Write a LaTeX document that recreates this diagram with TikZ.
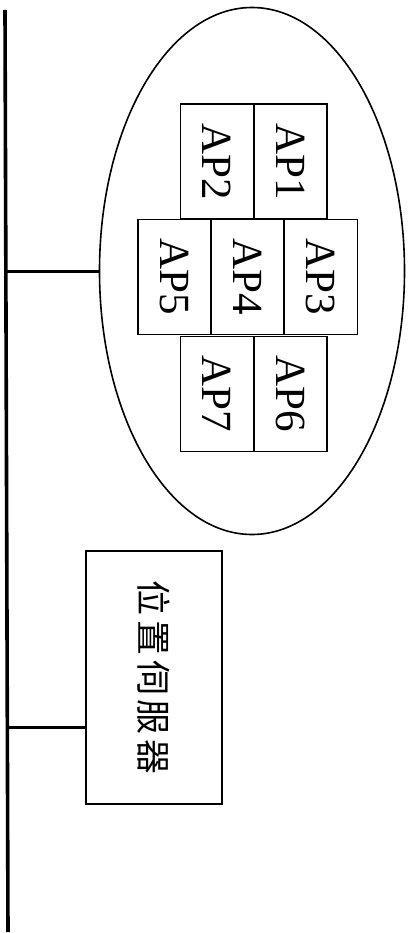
\documentclass[tikz,border=0pt]{standalone}
\usepackage{fontspec}
\setmainfont{Liberation Serif}
\newfontfamily\cjk[LetterSpace=14]{Noto Sans CJK TC}
\usetikzlibrary{shapes.geometric}
\tikzset{
  apbox/.style={draw, line width=1.8pt, minimum width=73pt, minimum height=115pt, inner sep=0pt,
    font=\fontsize{43}{43}\selectfont},
  bus/.style={line width=3.6pt},
  tap/.style={line width=3pt}
}
\begin{document}
\begin{tikzpicture}[x=1pt, y=-1pt]
		\useasboundingbox (0,0) rectangle (409,933);
		% backbone
		\coordinate (bustop) at (5,10);
		\coordinate (busbot) at (8,932);
		\draw[bus] (bustop)--(busbot);
		% AP zone
		\node[draw, ellipse, line width=1.6pt, minimum width=305pt, minimum height=527pt, inner sep=0pt] (zone) at (252,271) {};
		\node[apbox] (ap2) at (217,161.5) {\rotatebox{-90}{AP2}};
		\node[apbox] (ap1) at (290.5,161.5) {\rotatebox{-90}{AP1}};
		\node[apbox] (ap5) at (174.5,277) {\rotatebox{-90}{AP5}};
		\node[apbox] (ap4) at (247.5,277) {\rotatebox{-90}{AP4}};
		\node[apbox] (ap3) at (321,277) {\rotatebox{-90}{AP3}};
		\node[apbox] (ap7) at (217,394) {\rotatebox{-90}{AP7}};
		\node[apbox] (ap6) at (290.5,394) {\rotatebox{-90}{AP6}};
		% server
		\node[draw, line width=1.8pt, minimum width=136pt, minimum height=253pt, inner sep=0pt,
		  font=\cjk\fontsize{35}{35}\selectfont] (server) at (154,677.5) {\rotatebox{-90}{位置伺服器}};
		% taps
		\coordinate (tap1) at (6,271);
		\coordinate (tap2) at (7,727);
		\draw[tap] (tap1)--(zone.west);
		\draw[tap] (tap2)--(tap2 -| server.west);
	\end{tikzpicture}
\end{document}
